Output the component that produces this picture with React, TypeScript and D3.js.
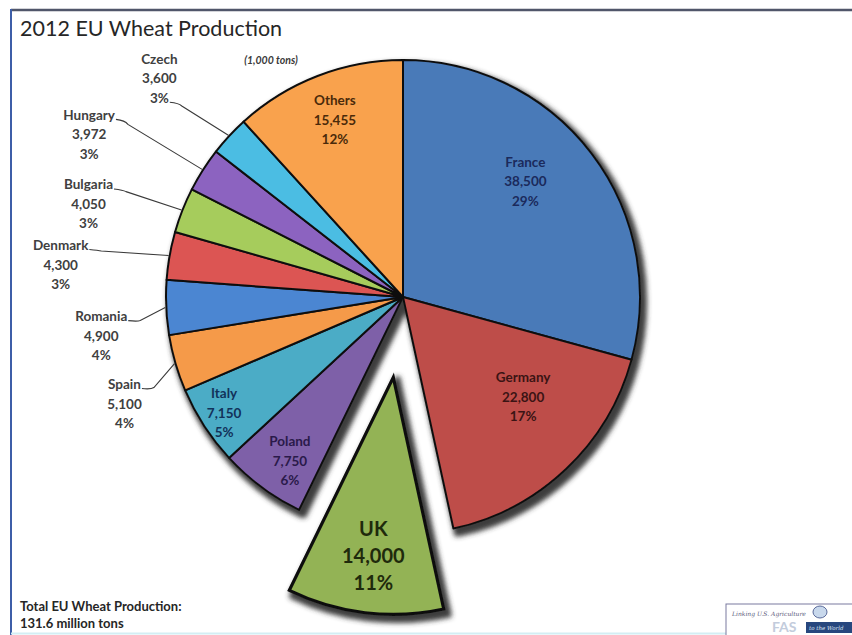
import { useMemo } from "react";
import * as d3 from "d3";

// EU wheat production 2012, 1,000 tons (clockwise from 12 o'clock)
const countries = ["France", "Germany", "UK", "Poland", "Italy", "Spain", "Romania", "Denmark", "Bulgaria", "Hungary", "Czech", "Others"];
const production = [38500, 22800, 14000, 7750, 7150, 5100, 4900, 4300, 4050, 3972, 3600, 15455];
const shares = ["29%", "17%", "11%", "6%", "5%", "4%", "4%", "3%", "3%", "3%", "3%", "12%"];
const sliceColors = ["#4a7ab8", "#be4d4a", "#93b354", "#7e61a8", "#4bacc6", "#f59a48", "#4c86d2", "#dc5552", "#a6cc5c", "#8c64c0", "#4cbde3", "#f9a24e"];
const explodedCountry = "UK";

const W = 852;
const H = 635;
const CX = 403;
const CY = 297;
const R = 237;
const EXPLODE = 81;
const FONT = "Lato, 'Open Sans', sans-serif";

// inside label placement: radius factor + angle tweak (deg) from slice mid-angle
const insideLabels: Record<string, { rf: number; da: number; color: string; size: number; gap: number }> = {
  France: { rf: 0.71, da: -6, color: "#1b2a5c", size: 13.5, gap: 19.5 },
  Germany: { rf: 0.66, da: -6.7, color: "#3b1414", size: 13.5, gap: 19.5 },
  UK: { rf: 0.76, da: -0.5, color: "#1f2a0c", size: 20, gap: 27 },
  Poland: { rf: 0.84, da: -2, color: "#2a1a4a", size: 13.5, gap: 19.5 },
  Italy: { rf: 0.9, da: 0, color: "#12325a", size: 13.5, gap: 19.5 },
  Others: { rf: 0.8, da: 0.1, color: "#4a2a0a", size: 13.5, gap: 19.5 },
};

// outside labels: offset of text block from slice edge point, line the leader starts from
const outsideLabels: Record<string, { dx: number; dy: number; line: number }> = {
  Czech: { dx: -69, dy: -76, line: 2 },
  Hungary: { dx: -113, dy: -54, line: 0 },
  Bulgaria: { dx: -93, dy: -25, line: 0 },
  Denmark: { dx: -108, dy: -10, line: 0 },
  Romania: { dx: -64, dy: 9, line: 0 },
  Spain: { dx: -50, dy: 21, line: 0 },
};

const fmt = d3.format(",");

function textWidth(s: string, font: string) {
  const c = document.createElement("canvas").getContext("2d");
  if (!c) return s.length * 7;
  c.font = font;
  return c.measureText(s).width;
}

export default function App() {
  const rows = countries.map((name, i) => ({ name, value: production[i], share: shares[i], color: sliceColors[i] }));
  type Row = (typeof rows)[number];

  const arcs = useMemo(() => d3.pie<Row>().sort(null).value(d => d.value).startAngle(0).endAngle(2 * Math.PI)(rows), []);
  const arcGen = d3.arc<d3.PieArcDatum<Row>>().innerRadius(0).outerRadius(R);

  const polar = (a: number, r: number): [number, number] => [Math.sin(a) * r, -Math.cos(a) * r];

  const mid = (a: d3.PieArcDatum<Row>) => (a.startAngle + a.endAngle) / 2;

  const offsetOf = (a: d3.PieArcDatum<Row>): [number, number] =>
    a.data.name === explodedCountry ? polar(mid(a), EXPLODE) : [0, 0];

  const main = arcs.filter(a => a.data.name !== explodedCountry);
  const exploded = arcs.filter(a => a.data.name === explodedCountry);

  const sliceFont = "bold 13.5px Lato";

  return (
    <svg width={W} height={H} style={{ position: "absolute", left: 0, top: 0, background: "#fff" }} fontFamily={FONT}>
      <defs>
        <filter id="pieShadow" x="-20%" y="-20%" width="140%" height="140%">
          <feMorphology in="SourceAlpha" operator="dilate" radius={2} result="grown" />
          <feGaussianBlur in="grown" stdDeviation={2.6} result="blur" />
          <feOffset in="blur" dx={4} dy={5} result="off" />
          <feFlood floodColor="#333" floodOpacity={0.95} />
          <feComposite in2="off" operator="in" result="shadow" />
          <feMerge>
            <feMergeNode in="shadow" />
            <feMergeNode in="SourceGraphic" />
          </feMerge>
        </filter>
      </defs>

      {/* slide frame */}
      <line x1={11} x2={W} y1={10} y2={10} stroke="#50566a" strokeWidth={2.5} />
      <line x1={11} x2={11} y1={9} y2={H} stroke="#3d5ea8" strokeWidth={2} />
      <line x1={11} x2={W} y1={H - 1.5} y2={H - 1.5} stroke="#d3eef4" strokeWidth={2} />

      <text x={20} y={36} fontSize={21.5} fill="#262626">2012 EU Wheat Production</text>
      <text x={271} y={64} fontSize={10.5} fontStyle="italic" fontWeight="bold" fill="#3a3a3a" textAnchor="middle">(1,000 tons)</text>

      {/* pie body */}
      <g transform={`translate(${CX},${CY})`}>
        <g filter="url(#pieShadow)">
          {main.map(a => (
            <path key={a.data.name} d={arcGen(a) || ""} fill={a.data.color} stroke="#111" strokeWidth={2} strokeLinejoin="round" />
          ))}
        </g>
        {exploded.map(a => {
          const [ox, oy] = offsetOf(a);
          return (
            <g key={a.data.name} transform={`translate(${ox},${oy})`} filter="url(#pieShadow)">
              <path d={arcGen(a) || ""} fill={a.data.color} stroke="#111" strokeWidth={3.2} strokeLinejoin="miter" />
            </g>
          );
        })}

        {/* inside labels */}
        {arcs.filter(a => insideLabels[a.data.name]).map(a => {
          const cfg = insideLabels[a.data.name];
          const [ox, oy] = offsetOf(a);
          const [lx, ly] = polar(mid(a) + (cfg.da * Math.PI) / 180, R * cfg.rf);
          const lines = [a.data.name, fmt(a.data.value), a.data.share];
          return (
            <text key={a.data.name} textAnchor="middle" fontWeight="bold" fontSize={cfg.size} fill={cfg.color}>
              {lines.map((t, k) => (
                <tspan key={k} x={lx + ox} y={ly + oy + (k - 1) * cfg.gap + cfg.size * 0.35}>{t}</tspan>
              ))}
            </text>
          );
        })}

        {/* outside labels with leaders */}
        {arcs.filter(a => outsideLabels[a.data.name]).map(a => {
          const cfg = outsideLabels[a.data.name];
          const [ex, ey] = polar(mid(a), R + 1);
          const tx = ex + cfg.dx;
          const ty = ey + cfg.dy;
          const lines = [a.data.name, fmt(a.data.value), a.data.share];
          const gap = 19.5;
          const w = textWidth(lines[cfg.line], sliceFont);
          const sx = tx + w / 2 + 1;
          const sy = ty + cfg.line * gap + 4;
          const leader = d3.path();
          leader.moveTo(sx, sy);
          leader.quadraticCurveTo(sx + 9, sy + 1, sx + 12, sy + (ey - sy) * 0.08 + 1);
          leader.lineTo(ex, ey);
          return (
            <g key={a.data.name}>
              <path d={leader.toString()} fill="none" stroke="#3a3a3a" strokeWidth={1.1} />
              <text textAnchor="middle" fontWeight="bold" fontSize={13.5} fill="#404040">
                {lines.map((t, k) => (
                  <tspan key={k} x={tx} y={ty + k * gap + 4.5}>{t}</tspan>
                ))}
              </text>
            </g>
          );
        })}
      </g>

      <text x={20} y={611} fontSize={13} fontWeight="bold" fill="#262626">Total EU Wheat Production:</text>
      <text x={20} y={628} fontSize={13} fontWeight="bold" fill="#262626">131.6 million tons</text>

      {/* FAS logo */}
      <g>
        <rect x={726} y={604} width={130} height={34} fill="#fff" stroke="#7a7aa0" strokeWidth={1} />
        <text x={732} y={616} fontSize={6} fontStyle="italic" fill="#5a5a7a" fontFamily="'DejaVu Serif', serif">Linking U.S. Agriculture</text>
        <ellipse cx={820} cy={612} rx={7} ry={6} fill="#c8d8ec" stroke="#5a6a9a" strokeWidth={1} />
        <text x={772} y={632} fontSize={14} fontWeight="bold" fill="#c3ccdc">FAS</text>
        <rect x={806} y={622} width={46} height={11} fill="#27477e" />
        <text x={809} y={630} fontSize={5.5} fill="#dde6f4" fontStyle="italic" fontFamily="'DejaVu Serif', serif">to the World</text>
      </g>
    </svg>
  );
}
